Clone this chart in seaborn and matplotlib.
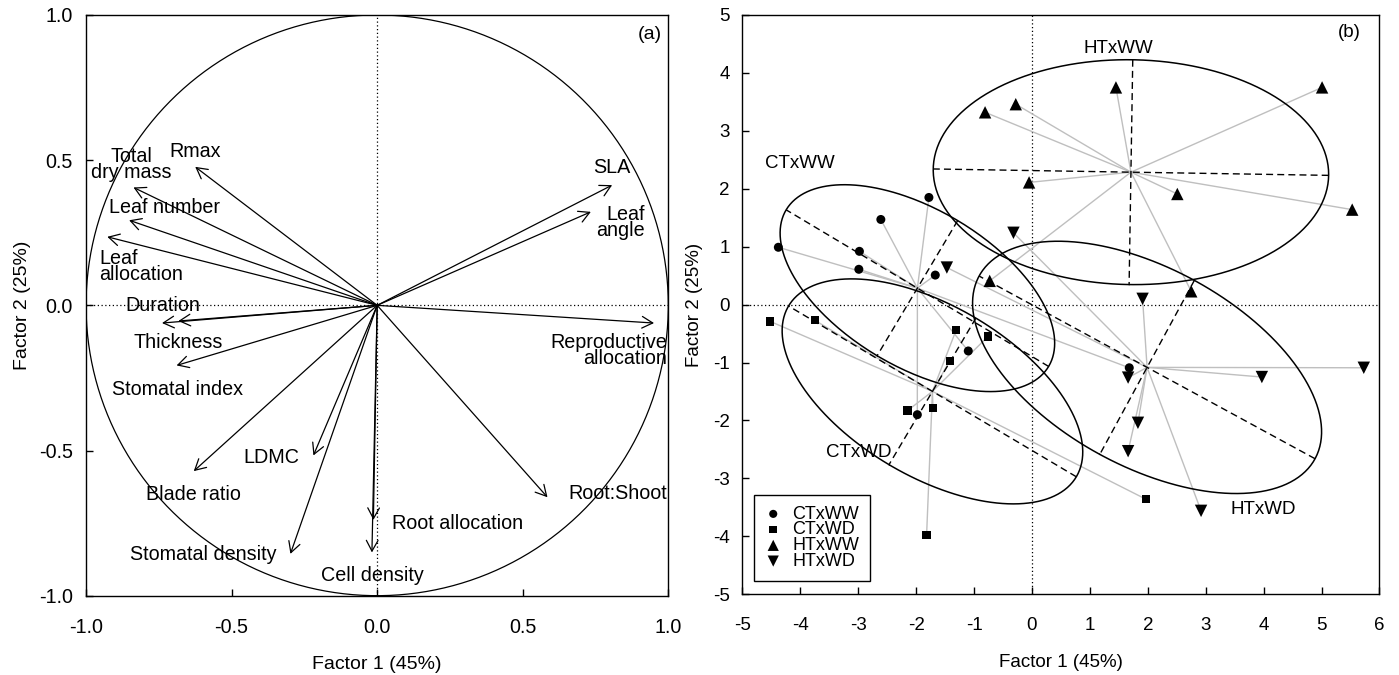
import numpy as np
import pandas as pd
import matplotlib
matplotlib.use("Agg")
import matplotlib.pyplot as plt
import seaborn as sns

# ==========================================
# DATA
# ==========================================
# (a) variable loadings on factor 1 / factor 2
var_names = ["Rmax", "Total\ndry mass", "Leaf number", "Leaf\nallocation",
             "Duration", "Thickness", "Stomatal index", "Blade ratio",
             "LDMC", "Stomatal density", "Root allocation", "Cell density",
             "SLA", "Leaf\nangle", "Reproductive\nallocation", "Root:Shoot"]
load_f1 = [-0.625, -0.837, -0.852, -0.927, -0.683, -0.739, -0.689, -0.630,
           -0.219, -0.298, -0.013, -0.018, 0.807, 0.734, 0.951, 0.585]
load_f2 = [0.477, 0.406, 0.293, 0.236, -0.054, -0.061, -0.207, -0.571,
           -0.517, -0.856, -0.739, -0.851, 0.414, 0.322, -0.061, -0.661]

# (b) individual scores per treatment
groups = ["CTxWW", "CTxWD", "HTxWW", "HTxWD"]
ctww_f1 = [-4.38, -2.61, -1.78, -2.98, -2.99, -1.67, -1.10, -1.98, 1.68]
ctww_f2 = [0.99, 1.47, 1.85, 0.92, 0.61, 0.51, -0.80, -1.90, -1.09]
ctwd_f1 = [-4.52, -3.75, -1.31, -0.76, -1.42, -2.15, -1.71, -1.82, 1.97]
ctwd_f2 = [-0.29, -0.27, -0.44, -0.55, -0.97, -1.83, -1.79, -3.98, -3.36]
htww_f1 = [-0.81, -0.28, -0.05, -0.73, 1.45, 5.01, 2.51, 5.53, 2.75]
htww_f2 = [3.32, 3.46, 2.11, 0.41, 3.75, 3.75, 1.91, 1.64, 0.23]
htwd_f1 = [-0.32, -1.47, 1.91, 1.66, 1.83, 1.66, 3.97, 5.73, 2.92]
htwd_f2 = [1.24, 0.64, 0.10, -1.26, -2.04, -2.53, -1.25, -1.09, -3.56]

# ==========================================
# LAYOUT / STYLE
# ==========================================
# label placement for panel (a): x, y, horizontal alignment
LABEL_POS = {
    "Rmax": (-0.624, 0.531, "center"),
    "Total\ndry mass": (-0.845, 0.484, "center"),
    "Leaf number": (-0.729, 0.337, "center"),
    "Leaf\nallocation": (-0.955, 0.135, "left"),
    "Duration": (-0.737, 0.0, "center"),
    "Thickness": (-0.685, -0.127, "center"),
    "Stomatal index": (-0.685, -0.290, "center"),
    "Blade ratio": (-0.631, -0.652, "center"),
    "LDMC": (-0.365, -0.523, "center"),
    "Stomatal density": (-0.599, -0.859, "center"),
    "Root allocation": (0.277, -0.752, "center"),
    "Cell density": (-0.016, -0.931, "center"),
    "SLA": (0.805, 0.474, "center"),
    "Leaf\nangle": (0.920, 0.286, "right"),
    "Reproductive\nallocation": (0.997, -0.156, "right"),
    "Root:Shoot": (0.828, -0.648, "center"),
}
GROUP_LABEL_POS = {"CTxWW": (-4.0, 2.44), "HTxWW": (1.49, 4.43),
                   "CTxWD": (-3.0, -2.55), "HTxWD": (3.99, -3.53)}
MARKERS = {"CTxWW": "o", "CTxWD": "s", "HTxWW": "^", "HTxWD": "v"}
SIZES = {"CTxWW": 42, "CTxWD": 36, "HTxWW": 80, "HTxWD": 80}

sns.set_theme(style="ticks")
plt.rcParams['font.family'] = ['Liberation Sans', 'DejaVu Sans']
plt.rcParams['axes.unicode_minus'] = False
plt.rcParams['axes.edgecolor'] = 'black'
plt.rcParams['xtick.color'] = 'black'
plt.rcParams['ytick.color'] = 'black'
plt.rcParams['text.color'] = 'black'
plt.rcParams['axes.labelcolor'] = 'black'

DOT = (0, (1, 2))


def style_axes(ax, fs, xpad, ypad):
    for sp in ax.spines.values():
        sp.set_visible(True)
        sp.set_linewidth(1.0)
        sp.set_color('black')
    ax.tick_params(direction='in', length=5, width=1, labelsize=fs)
    ax.tick_params(axis='x', pad=xpad)
    ax.tick_params(axis='y', pad=ypad)


def class_ellipse(x, y, k=1.5):
    """ade4-style class ellipse (1/n covariance, cellipse = 1.5)."""
    x = np.asarray(x)
    y = np.asarray(y)
    mx, my = x.mean(), y.mean()
    cov = np.cov(x, y, bias=True)
    vals, vecs = np.linalg.eigh(cov)
    t = np.linspace(0, 2 * np.pi, 300)
    circ = np.vstack([np.cos(t), np.sin(t)])
    pts = vecs @ (k * np.sqrt(vals)[:, None] * circ)
    axes = []
    for i in range(2):
        d = k * np.sqrt(vals[i]) * vecs[:, i]
        axes.append(([mx - d[0], mx + d[0]], [my - d[1], my + d[1]]))
    return (mx, my), (mx + pts[0], my + pts[1]), axes


fig = plt.figure(figsize=(13.99, 6.75), dpi=100)
ax1 = fig.add_axes([0.0615, 0.1175, 0.4162, 0.8603])
ax2 = fig.add_axes([0.5307, 0.1196, 0.4553, 0.8582])

# ==========================================
# (a) correlation circle
# ==========================================
t = np.linspace(0, 2 * np.pi, 400)
ax1.plot(np.cos(t), np.sin(t), color='black', lw=0.9)
ax1.axhline(0, color='black', ls=DOT, lw=0.9)
ax1.axvline(0, color='black', ls=DOT, lw=0.9)

for name, x, y in zip(var_names, load_f1, load_f2):
    ax1.annotate("", xy=(x, y), xytext=(0, 0),
                 arrowprops=dict(arrowstyle="->,head_length=0.55,head_width=0.3",
                                 color='black', lw=0.9, shrinkA=0, shrinkB=0,
                                 mutation_scale=14))
    lx, ly, ha = LABEL_POS[name]
    ax1.text(lx, ly, name, ha=ha, va='center', fontsize=14.2, linespacing=0.8)

ax1.set_xlim(-1, 1)
ax1.set_ylim(-1, 1)
ax1.set_xticks([-1, -0.5, 0, 0.5, 1])
ax1.set_yticks([-1, -0.5, 0, 0.5, 1])
ax1.set_xticklabels(["-1.0", "-0.5", "0.0", "0.5", "1.0"])
ax1.set_yticklabels(["-1.0", "-0.5", "0.0", "0.5", "1.0"])
style_axes(ax1, 14.2, 16, 9.4)
ax1.set_xlabel("Factor 1 (45%)", fontsize=14, labelpad=14)
ax1.set_ylabel("Factor 2 (25%)", fontsize=14, labelpad=6)
ax1.text(0.989, 0.967, "(a)", transform=ax1.transAxes, ha='right',
         va='center', fontsize=14)

# ==========================================
# (b) individual scores with class ellipses
# ==========================================
scores = pd.DataFrame({
    "f1": ctww_f1 + ctwd_f1 + htww_f1 + htwd_f1,
    "f2": ctww_f2 + ctwd_f2 + htww_f2 + htwd_f2,
    "group": sum([[g] * 9 for g in groups], []),
})

ax2.axhline(0, color='black', ls=DOT, lw=0.9, zorder=1)
ax2.axvline(0, color='black', ls=DOT, lw=0.9, zorder=1)

for g in groups:
    sub = scores[scores["group"] == g]
    (cx, cy), (ex, ey), ell_axes = class_ellipse(sub["f1"], sub["f2"])
    # stars from centroid
    for px, py in zip(sub["f1"], sub["f2"]):
        ax2.plot([cx, px], [cy, py], color='#bfbfbf', lw=1.0, zorder=1.5)
    ax2.plot(ex, ey, color='black', lw=1.1, zorder=2)
    for axx, axy in ell_axes:
        ax2.plot(axx, axy, color='black', lw=1.0, ls=(0, (5, 3)), zorder=2)

for g in groups:
    sub = scores[scores["group"] == g]
    sns.scatterplot(data=sub, x="f1", y="f2", marker=MARKERS[g], s=SIZES[g],
                    color='black', edgecolor='none', linewidth=0, ax=ax2,
                    label=g, zorder=3)

for g, (lx, ly) in GROUP_LABEL_POS.items():
    ax2.text(lx, ly, g, ha='center', va='center', fontsize=13.5)

ax2.set_xlim(-5, 6)
ax2.set_ylim(-5, 5)
ax2.set_xticks(range(-5, 7))
ax2.set_yticks(range(-5, 6))
style_axes(ax2, 13.5, 16.5, 9)
ax2.set_xlabel("Factor 1 (45%)", fontsize=13.5, labelpad=14)
ax2.set_ylabel("Factor 2 (25%)", fontsize=13.5, labelpad=7)
ax2.text(0.971, 0.969, "(b)", transform=ax2.transAxes, ha='right',
         va='center', fontsize=13.5)

leg = ax2.legend(loc='lower left', bbox_to_anchor=(0.018, 0.0235),
                 borderaxespad=0, frameon=True, fancybox=False,
                 edgecolor='black', framealpha=1, fontsize=13,
                 labelspacing=-0.07, handlelength=0.94, handletextpad=0.6,
                 borderpad=0.6, markerscale=0.9, scatterpoints=1)
leg.get_frame().set_linewidth(1.0)

fig.savefig("out.png", dpi=100)
